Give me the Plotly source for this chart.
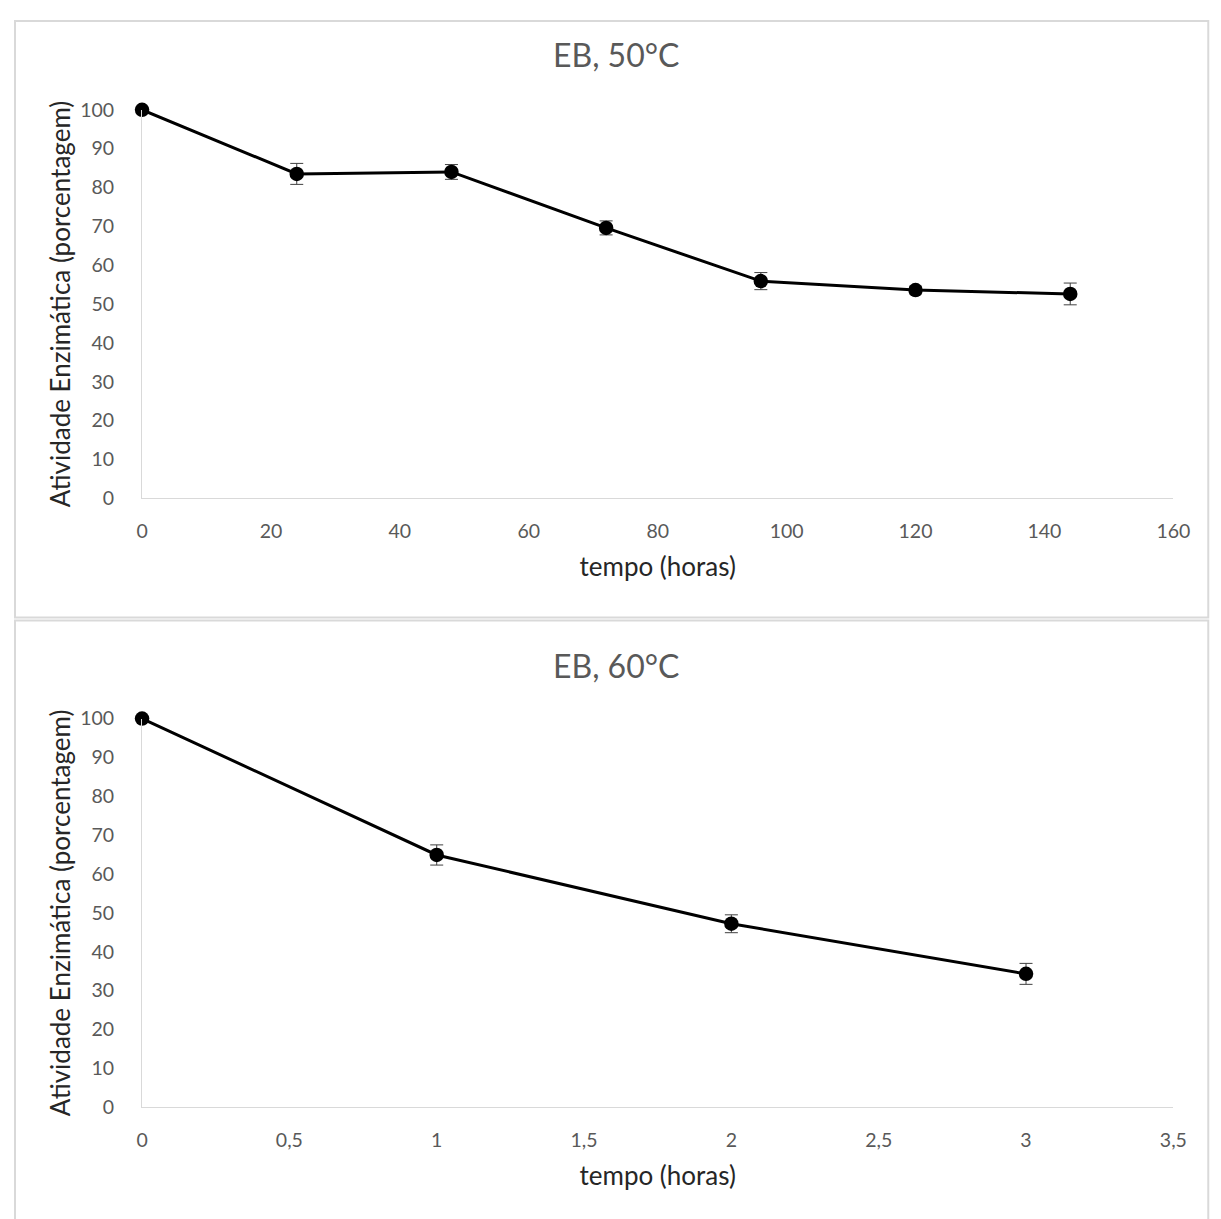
import plotly.graph_objects as go

# ---- data ----
time_50 = [0, 24, 48, 72, 96, 120, 144]
act_50 = [100, 83.5, 84.0, 69.6, 55.9, 53.6, 52.6]
err_50 = [0, 2.7, 1.9, 1.8, 2.2, 1.0, 2.8]

time_60 = [0, 1, 2, 3]
act_60 = [100, 64.9, 47.2, 34.3]
err_60 = [0, 2.6, 2.3, 2.7]

title_50 = "EB, 50°C"
title_60 = "EB, 60°C"
x_title = "tempo (horas)"
y_title = "Atividade Enzimática (porcentagem)"

# mapping from target-picture pixels to figure pixels (measured rendering offset/scale)
SX, OX, SY, OY, BODY = 0.982, 5.0, 0.98, 12.5, 8.0
W, H = 1232, 1232
FONT = "Lato"
TICK_COLOR = "#595959"
AXIS_LINE = "#d9d9d9"


def fx(p):
    return (p - OX) / SX - BODY


def fy(p):
    return (p - OY) / SY - BODY


def px_x(p):
    return min(max(fx(p), 1.0), 1217.0) / W


def px_y(p):
    return 1 - min(max(fy(p), 1.0), H + 20.0) / H


fig = go.Figure()


def add_series(x, y, err, xa, ya):
    fig.add_trace(go.Scatter(
        x=x, y=y, mode="lines+markers",
        line=dict(color="black", width=3),
        marker=dict(color="black", size=14.5),
        error_y=dict(type="data", array=err, visible=True,
                     color="#404040", thickness=1, width=6.5),
        xaxis=xa, yaxis=ya, cliponaxis=False, showlegend=False,
    ))


add_series(time_50, act_50, err_50, "x", "y")
add_series(time_60, act_60, err_60, "x2", "y2")

common_x = dict(showgrid=False, zeroline=False, showline=True, linecolor=AXIS_LINE,
                linewidth=1, ticks="", tickfont=dict(family=FONT, size=19.5, color=TICK_COLOR),
                title_font=dict(family=FONT, size=26, color="#262626"),
                ticklabelstandoff=15)
common_y = dict(showgrid=False, zeroline=False, showline=True, linecolor=AXIS_LINE,
                linewidth=1, ticks="", range=[0, 100], dtick=10,
                tickfont=dict(family=FONT, size=19.5, color=TICK_COLOR),
                title_font=dict(family=FONT, size=26, color="#262626"),
                ticklabelstandoff=23)

fig.update_layout(
    width=W, height=H,
    margin=dict(l=0, r=0, t=0, b=0),
    paper_bgcolor="white", plot_bgcolor="white",
    separators=",.",
    xaxis=dict(domain=[px_x(141), px_x(1173)], anchor="y", range=[0, 160], dtick=20,
               title=dict(text=x_title, standoff=17), **common_x),
    yaxis=dict(domain=[px_y(498), px_y(110)], anchor="x",
               title=dict(text=y_title, standoff=2), **common_y),
    xaxis2=dict(domain=[px_x(141), px_x(1173)], anchor="y2", range=[0, 3.5], dtick=0.5,
                title=dict(text=x_title, standoff=17), **common_x),
    yaxis2=dict(domain=[px_y(1106), px_y(718)], anchor="x2",
                title=dict(text=y_title, standoff=2), **common_y),
    annotations=[
        dict(text=title_50, x=px_x(615), y=px_y(55), xref="paper", yref="paper",
             showarrow=False, xanchor="center", yanchor="middle",
             font=dict(family=FONT, size=32, color=TICK_COLOR)),
        dict(text=title_60, x=px_x(615), y=px_y(665), xref="paper", yref="paper",
             showarrow=False, xanchor="center", yanchor="middle",
             font=dict(family=FONT, size=32, color=TICK_COLOR)),
    ],
    shapes=[
        dict(type="rect", xref="paper", yref="paper",
             x0=px_x(8), x1=px_x(1219), y0=px_y(617), y1=px_y(10),
             line=dict(color=AXIS_LINE, width=2)),
        dict(type="rect", xref="paper", yref="paper",
             x0=px_x(8), x1=px_x(1219), y0=px_y(1240), y1=px_y(620),
             line=dict(color=AXIS_LINE, width=2)),
    ],
)

fig.write_html("out.html")
